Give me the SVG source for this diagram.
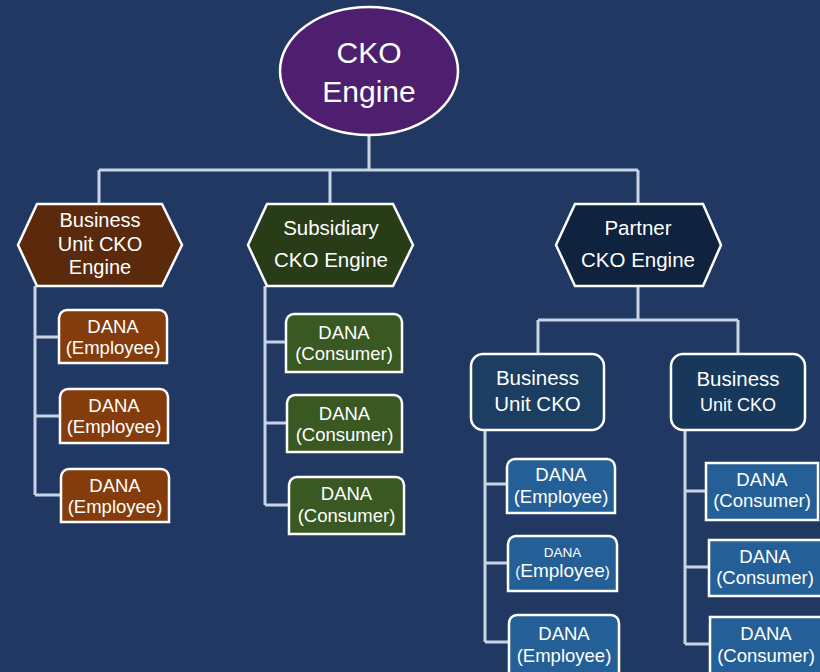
<svg xmlns="http://www.w3.org/2000/svg" width="820" height="672" viewBox="0 0 820 672">
  <style>
    .link { fill: none; stroke: #c9d3e6; stroke-width: 3; }
    .node { stroke: #ffffff; stroke-width: 2.5; }
    text { font-family: "Liberation Sans", Arial, sans-serif; fill: #ffffff; text-anchor: middle; }
    .t31 { font-size: 30px; }
    .t20 { font-size: 20.5px; }
    .t19 { font-size: 20px; }
    .t18 { font-size: 18.5px; }
    .root { fill: #4f1f6f; }
    .bu { fill: #5b2a0c; }
    .sub { fill: #283c18; }
    .par { fill: #0f223e; }
    .emp { fill: #843c0c; }
    .con { fill: #3a5822; }
    .buc1 { fill: #1b3e62; }
    .buc2 { fill: #17375b; }
    .blue { fill: #245f97; }
  </style>

  <rect x="0" y="0" width="820" height="672" fill="#213863"/>

  <!-- connectors -->
  <g id="connectors">
    <path class="link" d="M369,136 V170 M99,170 H638 M99,170 V204 M330,170 V204 M638,170 V204"/>
    <path class="link" d="M35,286 V495 M35,337 H59 M35,416 H60 M35,495 H61"/>
    <path class="link" d="M265,286 V505 M265,342 H286 M265,423 H287 M265,505 H289"/>
    <path class="link" d="M638,286 V320 M538,320 H738 M538,320 V354 M738,320 V354"/>
    <path class="link" d="M485,430 V642 M485,484 H507 M485,563 H508 M485,642 H509"/>
    <path class="link" d="M685,430 V644 M685,491 H706 M685,567 H709 M685,644 H710"/>
  </g>

  <!-- top engine -->
  <g id="cko-engine">
    <ellipse class="node root" cx="369" cy="71" rx="89" ry="64"/>
    <text class="t31" x="369" y="63">CKO<tspan x="369" dy="39">Engine</tspan></text>
  </g>

  <!-- second level -->
  <g id="business-unit-engine">
    <polygon class="node bu" points="18,245 37,204 162,204 182,245 162,286 37,286"/>
    <text class="t19" x="100" y="227">Business<tspan x="100" dy="24">Unit CKO</tspan><tspan x="100" dy="23">Engine</tspan></text>
  </g>
  <g id="subsidiary-engine">
    <polygon class="node sub" points="248,245 267,204 393,204 413,245 393,286 267,286"/>
    <text class="t20" x="331" y="235">Subsidiary<tspan x="331" dy="32">CKO Engine</tspan></text>
  </g>
  <g id="partner-engine">
    <polygon class="node par" points="556,245 575,204 703,204 721,245 703,286 575,286"/>
    <text class="t20" x="638" y="235">Partner<tspan x="638" dy="32">CKO Engine</tspan></text>
  </g>

  <!-- business unit DANA (employee) -->
  <g id="bu-dana-1">
    <path class="node emp" d="M59,363 V318 A8,8 0 0 1 67,310 H159 A8,8 0 0 1 167,318 V363 Z"/>
    <text class="t18" x="113" y="332.5">DANA<tspan x="113" dy="21">(Employee)</tspan></text>
  </g>
  <g id="bu-dana-2">
    <path class="node emp" d="M60,443 V397 A8,8 0 0 1 68,389 H160 A8,8 0 0 1 168,397 V443 Z"/>
    <text class="t18" x="114" y="411.5">DANA<tspan x="114" dy="21">(Employee)</tspan></text>
  </g>
  <g id="bu-dana-3">
    <path class="node emp" d="M61,522 V477 A8,8 0 0 1 69,469 H161 A8,8 0 0 1 169,477 V522 Z"/>
    <text class="t18" x="115" y="491.5">DANA<tspan x="115" dy="21">(Employee)</tspan></text>
  </g>

  <!-- subsidiary DANA (consumer) -->
  <g id="sub-dana-1">
    <path class="node con" d="M286,372 V322 A8,8 0 0 1 294,314 H394 A8,8 0 0 1 402,322 V372 Z"/>
    <text class="t18" x="344" y="339">DANA<tspan x="344" dy="21">(Consumer)</tspan></text>
  </g>
  <g id="sub-dana-2">
    <path class="node con" d="M287,452 V403 A8,8 0 0 1 295,395 H394 A8,8 0 0 1 402,403 V452 Z"/>
    <text class="t18" x="344.5" y="420">DANA<tspan x="344.5" dy="21">(Consumer)</tspan></text>
  </g>
  <g id="sub-dana-3">
    <path class="node con" d="M289,534 V485 A8,8 0 0 1 297,477 H396 A8,8 0 0 1 404,485 V534 Z"/>
    <text class="t18" x="346.5" y="500">DANA<tspan x="346.5" dy="22">(Consumer)</tspan></text>
  </g>

  <!-- partner business units -->
  <g id="partner-bu-1">
    <rect class="node buc1" x="471" y="354" width="133" height="76" rx="12"/>
    <text class="t20" x="537.5" y="385">Business<tspan x="537.5" dy="26">Unit CKO</tspan></text>
  </g>
  <g id="partner-bu-2">
    <rect class="node buc2" x="671" y="354" width="134" height="76" rx="12"/>
    <text class="t20" x="738" y="386">Business<tspan x="738" dy="25" style="font-size:18px">Unit CKO</tspan></text>
  </g>

  <!-- partner business unit 1: DANA (employee) -->
  <g id="pbu1-dana-1">
    <path class="node blue" d="M507,513 V467 A8,8 0 0 1 515,459 H607 A8,8 0 0 1 615,467 V513 Z"/>
    <text class="t18" x="561" y="481">DANA<tspan x="561" dy="22">(Employee)</tspan></text>
  </g>
  <g id="pbu1-dana-2">
    <path class="node blue" d="M508,591 V544 A8,8 0 0 1 516,536 H609 A8,8 0 0 1 617,544 V591 Z"/>
    <text x="562.5" y="556.5" style="font-size:13.5px">DANA<tspan x="562.5" dy="20.5" style="font-size:15px">(</tspan><tspan style="font-size:19px">Employee</tspan><tspan style="font-size:15px">)</tspan></text>
  </g>
  <g id="pbu1-dana-3">
    <path class="node blue" d="M509,675 V623 A8,8 0 0 1 517,615 H611 A8,8 0 0 1 619,623 V675 Z"/>
    <text class="t18" x="564" y="640">DANA<tspan x="564" dy="22">(Employee)</tspan></text>
  </g>

  <!-- partner business unit 2: DANA (consumer) -->
  <g id="pbu2-dana-1">
    <rect class="node blue" x="706" y="463" width="112" height="57"/>
    <text class="t18" x="762" y="486">DANA<tspan x="762" dy="21">(Consumer)</tspan></text>
  </g>
  <g id="pbu2-dana-2">
    <rect class="node blue" x="709" y="540" width="115" height="56"/>
    <text class="t18" x="765" y="563">DANA<tspan x="765" dy="21">(Consumer)</tspan></text>
  </g>
  <g id="pbu2-dana-3">
    <rect class="node blue" x="710" y="617" width="115" height="60"/>
    <text class="t18" x="766" y="640">DANA<tspan x="766" dy="22">(Consumer)</tspan></text>
  </g>
</svg>
